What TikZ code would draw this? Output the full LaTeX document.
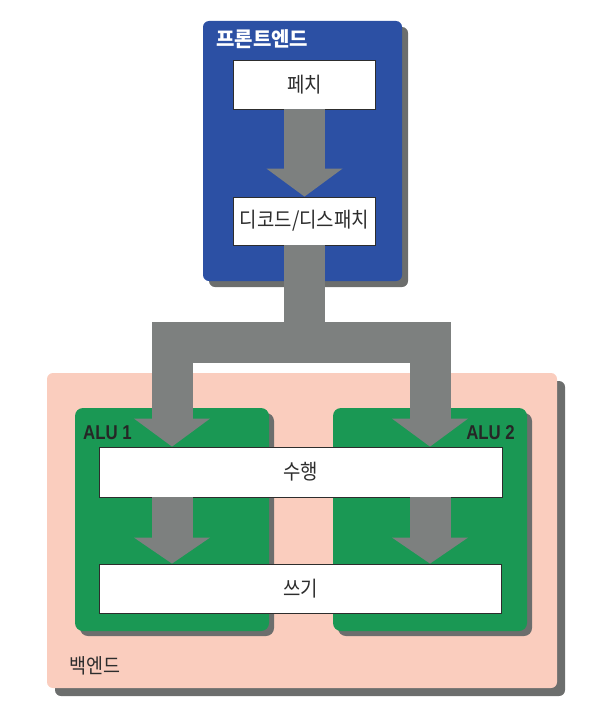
\documentclass[tikz,border=0pt]{standalone}
\usepackage{fontspec}
\newfontfamily\kr{Noto Sans CJK KR}
\newfontfamily\krn{Noto Sans CJK KR}[FakeStretch=0.9]
\newfontfamily\alufont{Liberation Sans}[FakeStretch=0.84]
\usetikzlibrary{calc,shadows}
\definecolor{feblue}{RGB}{44,80,164}
\definecolor{arrowgray}{RGB}{125,128,127}
\definecolor{shadowgray}{RGB}{108,110,109}
\definecolor{bepink}{RGB}{250,205,190}
\definecolor{alugreen}{RGB}{26,152,84}
\definecolor{textdark}{RGB}{45,45,45}
\begin{document}
\begin{tikzpicture}[x=1pt,y=-1pt,
  panel/.style={rounded corners=6pt, inner sep=0pt, draw=none},
  sh/.style={drop shadow={shadow xshift=#1, shadow yshift=-#1, fill=shadowgray, opacity=1}},
  stagebox/.style={draw=textdark, line width=0.8pt, fill=white, inner sep=0pt,
    font=\krn\fontsize{21}{23}\selectfont, text=textdark},
  shaft/.style={draw=arrowgray, line width=41pt, line cap=butt, line join=miter},
  head/.style={fill=arrowgray},
  alulabel/.style={inner sep=0pt, font=\alufont\bfseries\fontsize{20}{22}\selectfont, text=black!85},
  panellabel/.style={inner sep=0pt, font=\krn\fontsize{20.5}{22}\selectfont}
]
\useasboundingbox (0,0) rectangle (593,709);

% panels
\node[panel, sh=8pt, fill=bepink, minimum width=510pt, minimum height=315pt] (backend) at (302,530.5) {};
\node[panel, rounded corners=8pt, sh=5pt, fill=alugreen, minimum width=194pt, minimum height=223pt] (alu1) at (172,519.5) {};
\node[panel, rounded corners=8pt, sh=5pt, fill=alugreen, minimum width=194pt, minimum height=223pt] (alu2) at (430,519.5) {};
\node[panel, sh=6pt, fill=feblue, minimum width=199pt, minimum height=260pt] (frontend) at (302.5,151) {};

% stage boxes
\node[stagebox, minimum width=142pt, minimum height=49pt] (fetch) at (304.5,84.5) {페치};
\node[stagebox, minimum width=142pt, minimum height=48pt] (decode) at (304.5,221) {디코드/디스패치};
\node[stagebox, minimum width=403pt, minimum height=50pt] (execute) at (300.5,472) {수행};
\node[stagebox, minimum width=402pt, minimum height=49pt] (write) at (300.5,588.5) {쓰기};

% labels
\node[anchor=west, inner sep=0pt, text=white, font=\kr\bfseries\fontsize{20}{22}\selectfont] (felabel) at (216,39) {프론트엔드};
\node[alulabel, anchor=west] (alu1label) at (83,432.5) {ALU 1};
\node[alulabel, anchor=east] (alu2label) at (515,432.5) {ALU 2};
\node[panellabel, anchor=west, text=textdark] (belabel) at (69,666) {백엔드};

% connector coordinates
\coordinate (split) at (decode.south |- 0,342.5);
\coordinate (e1) at (execute.north -| alu1.north);
\coordinate (e2) at (execute.north -| alu2.north);
\coordinate (w1) at (write.north -| alu1.north);
\coordinate (w2) at (write.north -| alu2.north);

% fetch -> decode
\draw[shaft] (fetch.south) -- ([yshift=27pt]decode.north);
\fill[head] (decode.north) -- ++(-38,-28) -- ++(76,0) -- cycle;

% decode -> execute (split)
\draw[shaft] (decode.south) -- (split) -| ([yshift=27pt]e1);
\draw[shaft] (split) -| ([yshift=27pt]e2);
\fill[head] (e1) -- ++(-38,-28) -- ++(76,0) -- cycle;
\fill[head] (e2) -- ++(-38,-28) -- ++(76,0) -- cycle;

% execute -> write
\draw[shaft] (e1 |- execute.south) -- ([yshift=25pt]w1);
\draw[shaft] (e2 |- execute.south) -- ([yshift=25pt]w2);
\fill[head] (w1) -- ++(-38,-26) -- ++(76,0) -- cycle;
\fill[head] (w2) -- ++(-38,-26) -- ++(76,0) -- cycle;
\end{tikzpicture}
\end{document}
